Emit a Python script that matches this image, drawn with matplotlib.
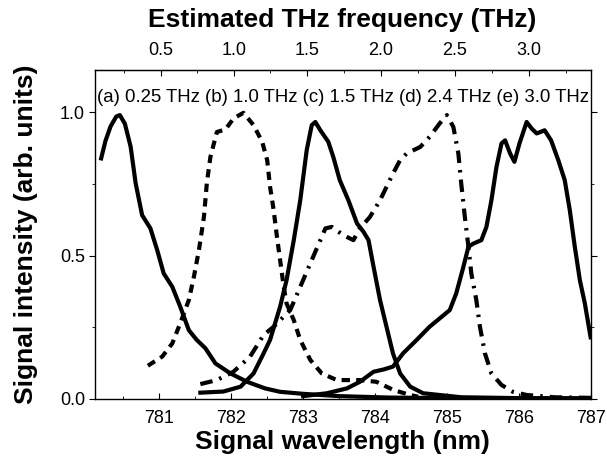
import numpy as np
import matplotlib
matplotlib.use('Agg')
import matplotlib.pyplot as plt
from matplotlib.ticker import MultipleLocator

plt.rcParams['font.family'] = ['Liberation Sans', 'DejaVu Sans']

# (a) 0.25 THz
wl_a = [780.19, 780.25, 780.32, 780.40, 780.45, 780.52, 780.60, 780.67, 780.76, 780.875, 780.97,
        781.06, 781.18, 781.29, 781.41, 781.52, 781.64, 781.78, 781.99, 782.22, 782.47,
        782.68, 783.0, 783.5, 784.2, 785.0, 786.0, 787.0]
int_a = [0.839, 0.90, 0.95, 0.985, 0.99, 0.96, 0.88, 0.752, 0.641, 0.595, 0.519,
         0.438, 0.391, 0.322, 0.240, 0.206, 0.177, 0.124, 0.089, 0.060, 0.037,
         0.025, 0.018, 0.010, 0.005, 0.003, 0.002, 0.002]

# (b) 1.0 THz
wl_b = [780.84, 781.04, 781.18, 781.29, 781.41, 781.48, 781.55, 781.62, 781.66, 781.71,
        781.80, 781.92, 782.03, 782.17, 782.31, 782.43, 782.50, 782.54, 782.59, 782.63,
        782.68, 782.73, 782.77, 782.87, 782.96, 783.10, 783.26, 783.47, 783.79, 784.02,
        784.26, 784.49, 784.6]
int_b = [0.116, 0.148, 0.194, 0.264, 0.345, 0.426, 0.519, 0.635, 0.752, 0.844,
         0.931, 0.940, 0.978, 0.998, 0.955, 0.897, 0.833, 0.740, 0.659, 0.577,
         0.484, 0.391, 0.333, 0.275, 0.206, 0.136, 0.089, 0.066, 0.066, 0.060,
         0.031, 0.014, 0.008]

# (c) 1.5 THz
wl_c = [781.57, 781.89, 782.13, 782.31, 782.45, 782.54, 782.68, 782.77, 782.87, 782.96,
        783.05, 783.12, 783.17, 783.24, 783.35, 783.42, 783.51, 783.63, 783.75, 783.84,
        783.91, 783.98, 784.07, 784.16, 784.25, 784.35, 784.49, 784.67, 785.2, 786.0, 787.0]
int_c = [0.022, 0.026, 0.043, 0.089, 0.159, 0.206, 0.322, 0.415, 0.554, 0.693,
         0.868, 0.955, 0.966, 0.937, 0.897, 0.844, 0.763, 0.693, 0.612, 0.583,
         0.554, 0.461, 0.345, 0.252, 0.159, 0.089, 0.043, 0.020, 0.006, 0.003, 0.002]

# (d) 2.4 THz
wl_d = [781.57, 781.80, 782.03, 782.26, 782.45, 782.59, 782.82, 782.96, 783.10, 783.24,
        783.31, 783.40, 783.56, 783.70, 783.79, 783.93, 784.07, 784.25, 784.35, 784.44,
        784.63, 784.76, 784.90, 785.0, 785.09, 785.16, 785.20, 785.25, 785.30, 785.34,
        785.41, 785.46, 785.53, 785.62, 785.76, 785.92, 786.11, 786.5, 787.0]
int_d = [0.052, 0.066, 0.095, 0.147, 0.223, 0.252, 0.310, 0.391, 0.473, 0.554,
         0.595, 0.600, 0.571, 0.554, 0.595, 0.635, 0.693, 0.786, 0.833, 0.856,
         0.879, 0.914, 0.961, 0.990, 0.949, 0.856, 0.751, 0.635, 0.531, 0.438,
         0.345, 0.252, 0.159, 0.089, 0.049, 0.025, 0.014, 0.006, 0.004]

# (e) 3.0 THz
wl_e = [783.0, 783.33, 783.61, 783.79, 783.98, 784.12, 784.25, 784.39, 784.58, 784.76,
        784.90, 785.04, 785.13, 785.23, 785.30, 785.37, 785.48, 785.55, 785.62, 785.69,
        785.76, 785.81, 785.88, 785.94, 786.01, 786.11, 786.18, 786.25, 786.36, 786.45,
        786.55, 786.64, 786.71, 786.78, 786.85, 786.92, 787.0]
int_e = [0.010, 0.020, 0.037, 0.060, 0.095, 0.103, 0.113, 0.159, 0.206, 0.252,
         0.281, 0.310, 0.368, 0.461, 0.531, 0.542, 0.554, 0.600, 0.693, 0.809,
         0.891, 0.902, 0.856, 0.827, 0.891, 0.966, 0.943, 0.926, 0.937, 0.902,
         0.833, 0.763, 0.659, 0.531, 0.415, 0.333, 0.215]

labels = "(a) 0.25 THz (b) 1.0 THz (c) 1.5 THz (d) 2.4 THz (e) 3.0 THz"

C_NM_THZ = 299792.458
LAMBDA0 = 780.0


def wl_to_thz(wl):
    wl = np.asarray(wl, dtype=float)
    return C_NM_THZ / LAMBDA0 - C_NM_THZ / wl


def thz_to_wl(f):
    f = np.asarray(f, dtype=float)
    return C_NM_THZ / (C_NM_THZ / LAMBDA0 - f)


fig = plt.figure(figsize=(6.07, 4.61), dpi=100)
ax = fig.add_axes([0.156, 0.1345, 0.817, 0.7135])

lw = 3.0
ax.plot(wl_a, int_a, color='black', lw=lw, solid_joinstyle='round')
ax.plot(wl_b, int_b, color='black', lw=lw, dashes=(2.0, 1.5))
ax.plot(wl_c, int_c, color='black', lw=lw, solid_joinstyle='round')
ax.plot(wl_d, int_d, color='black', lw=lw, dashes=(3.0, 1.7, 0.6, 1.7))
ax.plot(wl_e, int_e, color='black', lw=lw, solid_joinstyle='round')

ax.set_xlim(780.1, 787.0)
ax.set_ylim(0.0, 1.147)
ax.xaxis.set_minor_locator(MultipleLocator(0.5))
ax.yaxis.set_minor_locator(MultipleLocator(0.25))
ax.set_xticks([781, 782, 783, 784, 785, 786, 787])
ax.set_yticks([0.0, 0.5, 1.0])
ax.set_yticklabels(['0.0', '0.5', '1.0'])

ax.tick_params(axis='x', which='both', direction='in', top=False, labelsize=13, pad=8)
ax.tick_params(axis='x', which='major', length=4)
ax.tick_params(axis='x', which='minor', length=2.5)
ax.tick_params(axis='y', which='both', direction='out', right=True, labelsize=13, pad=3)
ax.tick_params(axis='y', which='major', length=4)
ax.tick_params(axis='y', which='minor', length=2.5)

for sp in ax.spines.values():
    sp.set_linewidth(1.0)

ax.set_xlabel('Signal wavelength (nm)', fontsize=19, fontweight='bold', labelpad=2)
ax.set_ylabel('Signal intensity (arb. units)', fontsize=19, fontweight='bold', labelpad=16)

top = ax.secondary_xaxis('top', functions=(wl_to_thz, thz_to_wl))
top.set_xticks([0.5, 1.0, 1.5, 2.0, 2.5, 3.0])
top.xaxis.set_minor_locator(MultipleLocator(0.25))
top.tick_params(axis='x', which='both', direction='in', labelsize=13, pad=8)
top.tick_params(axis='x', which='major', length=4)
top.tick_params(axis='x', which='minor', length=2.5)
top.set_xlabel('Estimated THz frequency (THz)', fontsize=19, fontweight='bold', labelpad=11)

ax.text(0.004, 0.918, labels, transform=ax.transAxes, fontsize=13.4, ha='left', va='center')

fig.savefig('out.png', dpi=100)
